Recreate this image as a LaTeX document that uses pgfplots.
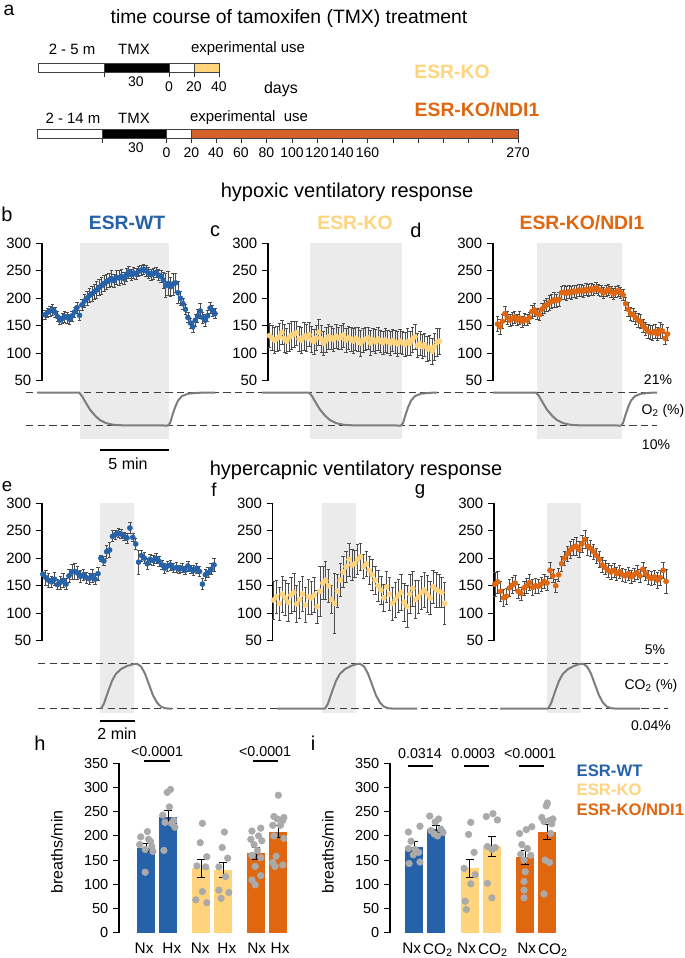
\documentclass[border=0pt]{standalone}
\usepackage{pgfplots}
\pgfplotsset{compat=1.18}
\usepackage{pgfplotstable}
\usepackage{fontspec}
\setmainfont{Liberation Sans}
\definecolor{wtblue}{RGB}{38,98,170}
\definecolor{koyel}{RGB}{255,212,125}
\definecolor{ndior}{RGB}{224,102,16}
\definecolor{tlor}{RGB}{212,98,40}
\definecolor{shade}{RGB}{235,235,235}
\definecolor{dotgray}{RGB}{170,170,170}
\definecolor{trgray}{RGB}{125,125,125}
\definecolor{dashgray}{RGB}{60,60,60}
\newcommand{\fs}[1]{\fontsize{#1}{#1}\selectfont}

\pgfplotsset{
  every axis/.append style={/pgf/number format/assume math mode=true},
  tc/.style={scale only axis, clip=false, height=103.05pt, ymin=50, ymax=300,
    ytick={50,100,...,300}, axis y line*=left, axis x line=none,
    tick align=outside, major tick length=4.5pt,
    axis line style={line width=0.8pt}, ytick style={line width=0.8pt, black},
    tick label style={font=\fs{11.2}}, anchor=south west},
  tcplot/.style={only marks, mark=*, mark size=1.9pt, color=#1,
    mark options={draw=none, fill=#1},
    error bars/.cd, y dir=both, y explicit,
    error bar style={line width=0.45pt, black!70},
    error mark options={rotate=90, mark size=1.3pt, line width=0.45pt, black!70}},
  barax/.style={scale only axis, clip=false, height=127.05pt, ymin=0, ymax=350,
    ytick={0,50,...,350}, axis lines*=left, x axis line style={draw=none},
    xtick style={draw=none},
    tick align=outside, major tick length=4.5pt,
    axis line style={line width=0.8pt}, ytick style={line width=0.8pt, black},
    tick label style={font=\fs{10.9}}, xticklabel style={font=\fs{11.5}},
    anchor=south west},
  bar/.style={ybar, bar width=0.82, bar shift=0pt, fill=#1, draw=none},
  dots/.style={only marks, mark=*, mark size=2.5pt, color=dotgray,
    mark options={draw=none, fill=dotgray}},
  ebar/.style={draw=none, mark=none, error bars/.cd, y dir=both, y explicit,
    error bar style={draw=black, line width=0.6pt},
    error mark options={rotate=90, draw=black, mark size=3pt, line width=0.6pt}},
  trax/.style={scale only axis, clip=false, axis lines=none, xmin=0, xmax=685,
    width=513.75pt, anchor=south west},
  dash/.style={dashgray, line width=0.9pt, dash pattern=on 5.5pt off 3.2pt},
  trace/.style={trgray, line width=1.5pt, line join=round},
  tl/.style={scale only axis, clip=false, height=6.75pt, ymin=0, ymax=1,
    axis y line=none, axis x line*=bottom, tick align=outside,
    major tick length=3.75pt, xtick style={line width=0.6pt, black!80},
    axis line style={line width=0.6pt, black!80},
    tick label style={font=\fs{10.5}}, anchor=south west},
  seg/.style={fill=#1, draw=black!75, line width=0.6pt},
}

% hypoxic: ESR-WT
\pgfplotstableread{
x y e
0 170 8
1 174 8
2 177 9
3 179 10
4 175 9
5 167 9
6 160 8
7 163 9
8 167 10
9 165 10
10 162 9
11 168 9
12 175 9
13 183 10
14 169 9
15 188 10
16 195 12
17 200 12
18 205 13
19 208 14
20 212 14
21 215 15
22 220 15
23 223 15
24 227 14
25 230 14
26 233 13
27 236 14
28 232 12
29 238 12
30 237 13
31 240 12
32 236 11
33 242 12
34 248 11
35 243 10
36 246 10
37 244 10
38 249 9
39 251 9
40 253 9
41 250 10
42 246 10
43 243 10
44 245 10
45 247 9
46 242 10
47 240 11
48 233 14
49 223 22
50 227 22
51 221 18
52 226 20
53 228 18
54 210 20
55 200 12
56 190 10
57 180 9
58 165 9
59 155 9
60 148 10
61 160 11
62 168 12
63 177 14
64 165 10
65 160 11
66 168 10
67 182 10
68 178 10
69 172 9
}\tb
% hypoxic: ESR-KO
\pgfplotstableread{
x y e
0 132 22
1 128 22
2 124 24
3 126 23
4 130 24
5 138 22
6 127 25
7 122 23
8 129 26
9 133 25
10 135 24
11 137 22
12 126 23
13 124 24
14 131 25
15 128 24
16 134 22
17 125 24
18 121 23
19 128 22
20 138 23
21 126 24
22 118 22
23 124 23
24 130 22
25 128 21
26 125 21
27 131 22
28 127 20
29 129 21
30 133 22
31 124 22
32 128 21
33 126 22
34 122 23
35 127 21
36 125 22
37 118 23
38 123 22
39 126 21
40 128 20
41 119 22
42 124 21
43 121 22
44 126 21
45 122 20
46 119 21
47 124 22
48 121 21
49 118 22
50 123 20
51 120 21
52 117 22
53 122 22
54 119 21
55 116 22
56 121 24
57 118 22
58 125 23
59 130 22
60 114 22
61 118 21
62 112 22
63 115 21
64 108 23
65 110 22
66 104 24
67 112 25
68 120 26
69 122 24
}\tc
% hypoxic: ESR-KO/NDI1
\pgfplotstableread{
x y e
0 153 14
1 148 13
2 158 12
3 172 14
4 165 12
5 160 11
6 163 12
7 166 11
8 160 10
9 164 12
10 158 10
11 162 11
12 160 10
13 165 10
14 176 12
15 179 12
16 172 10
17 170 10
18 180 11
19 185 12
20 188 12
21 192 13
22 194 13
23 197 13
24 196 12
25 198 12
26 210 12
27 211 12
28 209 12
29 212 12
30 210 11
31 213 11
32 212 12
33 215 11
34 214 11
35 213 11
36 216 11
37 214 11
38 217 11
39 215 10
40 219 10
41 216 10
42 214 10
43 210 10
44 213 10
45 216 10
46 212 10
47 208 10
48 211 10
49 214 10
50 210 10
51 206 10
52 190 12
53 180 12
54 172 12
55 170 12
56 165 12
57 160 12
58 158 12
59 150 12
60 145 12
61 140 12
62 138 12
63 137 13
64 140 12
65 135 12
66 142 14
67 140 12
68 127 10
69 135 12
}\td
% hypercapnic: ESR-WT
\pgfplotstableread{
x y e
0 171 3
1 165 14
2 160 12
3 157 10
4 162 12
5 152 9
6 156 12
7 160 13
8 153 10
9 168 12
10 175 14
11 176 15
12 173 12
13 167 11
14 170 10
15 165 10
16 163 10
17 168 12
18 162 10
19 172 12
20 200 6
21 195 8
22 212 12
23 215 14
24 240 10
25 243 8
26 246 8
27 244 8
28 240 8
29 237 9
30 255 10
31 238 8
32 226 10
33 193 22
34 205 10
35 200 10
36 190 10
37 198 9
38 196 9
39 200 9
40 195 9
41 188 8
42 182 9
43 186 9
44 188 9
45 182 8
46 183 9
47 180 8
48 182 8
49 178 8
50 186 9
51 180 8
52 178 9
53 182 9
54 176 9
55 153 10
56 170 10
57 174 9
58 180 10
59 188 12
}\te
% hypercapnic: ESR-KO
\pgfplotstableread{
x y e
0 124 35
1 130 30
2 118 30
3 135 33
4 128 32
5 120 34
6 133 33
7 138 35
8 117 33
9 125 34
10 135 32
11 115 32
12 130 32
13 128 30
14 133 32
15 112 30
16 140 45
17 155 30
18 160 35
19 150 30
20 125 25
21 118 55
22 140 30
23 160 30
24 175 28
25 185 28
26 198 30
27 188 28
28 190 25
29 198 28
30 203 25
31 185 22
32 190 23
33 178 25
34 170 28
35 160 25
36 150 28
37 142 26
38 128 25
39 148 28
40 135 30
41 118 30
42 125 32
43 132 30
44 138 32
45 120 35
46 112 38
47 135 36
48 145 32
49 125 35
50 130 30
51 138 30
52 142 32
53 135 34
54 128 30
55 148 30
56 143 32
57 140 30
58 138 28
59 118 38
}\tf
% hypercapnic: ESR-KO/NDI1
\pgfplotstableread{
x y e
0 153 22
1 157 20
2 140 18
3 128 15
4 131 14
5 146 15
6 151 14
7 155 14
8 140 12
9 136 12
10 146 13
11 150 14
12 156 14
13 147 14
14 150 13
15 149 13
16 153 13
17 158 12
18 155 13
19 178 14
20 168 12
21 150 12
22 170 12
23 190 14
24 200 13
25 208 14
26 215 15
27 220 15
28 222 16
29 216 15
30 226 15
31 234 16
32 222 16
33 218 15
34 212 14
35 205 14
36 198 14
37 188 14
38 183 13
39 178 13
40 175 13
41 178 13
42 172 12
43 176 12
44 170 12
45 168 12
46 172 12
47 166 12
48 170 12
49 174 13
50 168 12
51 180 12
52 172 12
53 166 13
54 163 13
55 166 13
56 160 14
57 165 14
58 178 14
59 158 22
}\tg

\begin{document}
\begin{tikzpicture}
\useasboundingbox (0,0) rectangle (513.75pt,-718.5pt);

% ---------- a: timelines
\begin{axis}[tl, at={(28.5pt,-54pt)}, width=135.75pt, xmin=38, xmax=219,
  xtick={104.5,169,194,219}, xticklabels={,0,20,40},
  extra x ticks={136}, extra x tick labels={30}, extra x tick style={major tick length=0pt}]
\addplot[seg=white] coordinates {(38,0)(104.5,0)(104.5,1)(38,1)} --cycle;
\addplot[seg=black] coordinates {(104.5,0)(169,0)(169,1)(104.5,1)} --cycle;
\addplot[seg=white] coordinates {(169,0)(194,0)(194,1)(169,1)} --cycle;
\addplot[seg=koyel] coordinates {(194,0)(219,0)(219,1)(194,1)} --cycle;
\end{axis}
\begin{axis}[tl, at={(27.75pt,-103.5pt)}, width=360.75pt, xmin=37, xmax=518,
  xtick={102,166.5,191.5,216,241,266.5,292,317,342,367.5,393,418,443,468,492,518},
  xticklabels={,0,20,40,60,80,100,120,140,160,,,,,,270},
  extra x ticks={136}, extra x tick labels={30}, extra x tick style={major tick length=0pt}]
\addplot[seg=white] coordinates {(37,0)(102,0)(102,1)(37,1)} --cycle;
\addplot[seg=black] coordinates {(102,0)(166.5,0)(166.5,1)(102,1)} --cycle;
\addplot[seg=white] coordinates {(166.5,0)(191.5,0)(191.5,1)(166.5,1)} --cycle;
\addplot[seg=tlor] coordinates {(191.5,0)(518,0)(518,1)(191.5,1)} --cycle;
\end{axis}

% ---------- b, c, d: hypoxic
\begin{axis}[tc, at={(31.5pt,-285.525pt)}, width=131.6pt, xmin=-1.22, xmax=70]
\addplot[fill=shade, draw=none] coordinates {(14.2,-56.1)(50.3,-56.1)(50.3,300)(14.2,300)} --cycle;
\addplot[tcplot=wtblue] table[x=x, y=y, y error=e] {\tb};
\end{axis}
\begin{axis}[tc, at={(201pt,-285.525pt)}, width=130.5pt, xmin=-0.61, xmax=70]
\addplot[fill=shade, draw=none] coordinates {(16.4,-56.1)(53.8,-56.1)(53.8,300)(16.4,300)} --cycle;
\addplot[tcplot=koyel] table[x=x, y=y, y error=e] {\tc};
\end{axis}
\begin{axis}[tc, at={(369.75pt,-285.525pt)}, width=132.75pt, xmin=-1.83, xmax=70]
\addplot[fill=shade, draw=none] coordinates {(16.0,-56.1)(50.5,-56.1)(50.5,300)(16.0,300)} --cycle;
\addplot[tcplot=ndior] table[x=x, y=y, y error=e] {\td};
\end{axis}

% O2 traces
\begin{axis}[trax, at={(0pt,-319.125pt)}, ymin=10, ymax=21, height=24.75pt]
\addplot[dash] coordinates {(26,21)(657,21)};
\addplot[dash] coordinates {(26,10)(657,10)};
\addplot[trace] coordinates {(37,21)(79,21)(82,19.8)(86,17.5)(90,15.3)(95,13.3)(100,11.8)(106,10.8)(114,10.2)(125,10.03)(168,10)(170,10.8)(172,13)(175,16)(178,18.3)(182,19.8)(188,20.6)(197,20.9)(215,21)};
\addplot[trace] coordinates {(262,21)(309,21)(312,19.8)(316,17.5)(320,15.3)(325,13.3)(330,11.8)(336,10.8)(344,10.2)(355,10.03)(401,10)(403,10.8)(405,13)(408,16)(411,18.3)(415,19.8)(421,20.6)(430,20.9)(437,21)};
\addplot[trace] coordinates {(493,21)(536,21)(539,19.8)(543,17.5)(547,15.3)(552,13.3)(557,11.8)(563,10.8)(571,10.2)(582,10.03)(621,10)(623,10.8)(625,13)(628,16)(631,18.3)(635,19.8)(641,20.6)(650,20.9)(657,21)};
\end{axis}

% ---------- e, f, g: hypercapnic
\begin{axis}[tc, at={(31.5pt,-480.525pt)}, width=131.2pt, xmin=-0.3, xmax=60]
\addplot[fill=shade, draw=none] coordinates {(19.7,-81.5)(31.4,-81.5)(31.4,300)(19.7,300)} --cycle;
\addplot[tcplot=wtblue] table[x=x, y=y, y error=e] {\te};
\end{axis}
\begin{axis}[tc, at={(204.5pt,-480.525pt)}, width=131.2pt, xmin=-0.3, xmax=60]
\addplot[fill=shade, draw=none] coordinates {(16.7,-81.5)(28.3,-81.5)(28.3,300)(16.7,300)} --cycle;
\addplot[tcplot=koyel] table[x=x, y=y, y error=e] {\tf};
\end{axis}
\begin{axis}[tc, at={(370.5pt,-480.525pt)}, width=131.2pt, xmin=-0.3, xmax=60]
\addplot[fill=shade, draw=none] coordinates {(17.9,-81.5)(29.6,-81.5)(29.6,300)(17.9,300)} --cycle;
\addplot[tcplot=ndior] table[x=x, y=y, y error=e] {\tg};
\end{axis}

% CO2 traces
\begin{axis}[trax, at={(0pt,-531.45pt)}, ymin=0.04, ymax=5, height=33.675pt]
\addplot[dash] coordinates {(38,5)(668,5)};
\addplot[dash] coordinates {(38,0.04)(668,0.04)};
\addplot[trace] coordinates {(101,0.04)(104,0.6)(108,1.9)(112,3.1)(116,3.9)(121,4.4)(127,4.75)(133,4.93)(137,5)(141,4.7)(145,3.9)(149,2.7)(153,1.5)(157,0.7)(161,0.25)(166,0.06)(172,0.04)};
\addplot[trace] coordinates {(277,0.04)(325,0.04)(328,0.6)(332,1.9)(336,3.1)(340,3.9)(345,4.4)(351,4.75)(356,4.95)(360,5)(364,4.7)(368,3.9)(372,2.7)(376,1.5)(380,0.7)(384,0.25)(389,0.06)(396,0.04)(417,0.04)};
\addplot[trace] coordinates {(500,0.04)(548,0.04)(551,0.6)(555,1.9)(559,3.1)(563,3.9)(568,4.4)(574,4.75)(579,4.95)(583,5)(587,4.7)(591,3.9)(595,2.7)(599,1.5)(603,0.7)(607,0.25)(612,0.06)(619,0.04)(640,0.04)};
\end{axis}

% ---------- h: hypoxia bars
\begin{axis}[barax, at={(89.25pt,-699.525pt)}, width=129.4pt, xmin=-1.24, xmax=6.6,
  xtick={-0.1,1.16,2.45,3.66,5.02,6.08}, xticklabels={Nx,Hx,Nx,Hx,Nx,Hx}]
\addplot[bar=wtblue] coordinates {(0,176)};
\addplot[bar=wtblue] coordinates {(1,240)};
\addplot[bar=koyel] coordinates {(2.5,133)};
\addplot[bar=koyel] coordinates {(3.5,129)};
\addplot[bar=ndior] coordinates {(5,164)};
\addplot[bar=ndior] coordinates {(6,209)};
\addplot[dots] coordinates {(0.05,209)(-0.25,198)(0.1,193)(0.2,188)(-0.3,182)(0.25,178)(-0.05,172)(0.3,168)(-0.05,125)};
\addplot[dots] coordinates {(1.1,296)(0.95,290)(1.05,260)(0.75,243)(1.25,232)(0.85,228)(1.15,226)(1.3,218)(0.8,170)};
\addplot[dots] coordinates {(2.55,226)(2.45,186)(2.75,157)(2.3,138)(2.7,136)(2.55,85)(2.25,68)(2.75,62)};
\addplot[dots] coordinates {(3.55,208)(3.45,176)(3.7,154)(3.3,136)(3.6,116)(3.3,88)(3.75,83)(3.4,71)};
\addplot[dots] coordinates {(5.2,216)(4.8,210)(5.1,200)(4.75,193)(5.25,190)(4.9,182)(5.05,170)(4.8,160)(5.2,155)(4.95,137)(5.2,118)(4.8,109)(4.95,99)};
\addplot[dots] coordinates {(6.0,284)(5.8,240)(6.25,238)(5.95,235)(6.2,232)(5.75,222)(6.1,222)(5.8,200)(6.25,195)(5.9,158)(5.75,145)(6.2,140)(5.85,137)};
\addplot[ebar] coordinates {(0,176) +- (0,7.5) (1,240) +- (0,12) (2.5,133) +- (0,18.6) (3.5,129) +- (0,15.5) (5,164) +- (0,11.7) (6,209) +- (0,12.7)};
\draw[line width=0.8pt] (axis cs:-0.1,354.8) -- (axis cs:1.09,354.8);
\draw[line width=0.8pt] (axis cs:4.85,354.8) -- (axis cs:5.99,354.8);
\node[font=\fs{10.7}] at (axis cs:0.49,373.5) {<0.0001};
\node[font=\fs{10.7}] at (axis cs:5.4,373.5) {<0.0001};
\end{axis}

% ---------- i: hypercapnia bars
\begin{axis}[barax, at={(292.5pt,-699.525pt)}, width=128pt, xmin=-1.09, xmax=6.6,
  xtick={-0.11,1.07,2.36,3.55,5.07,6.25},
  xticklabels={Nx,CO\textsubscript{2},Nx,CO\textsubscript{2},Nx,CO\textsubscript{2}}]
\addplot[bar=wtblue] coordinates {(0,177)};
\addplot[bar=wtblue] coordinates {(1,214)};
\addplot[bar=koyel] coordinates {(2.5,133)};
\addplot[bar=koyel] coordinates {(3.5,179)};
\addplot[bar=ndior] coordinates {(5,156)};
\addplot[bar=ndior] coordinates {(6,208)};
\addplot[dots] coordinates {(-0.26,208)(0.26,220)(-0.14,189)(-0.26,174)(0.2,166)(-0.04,161)(-0.23,143)(0.26,146)(0.05,172)};
\addplot[dots] coordinates {(0.7,241)(1.1,235)(0.95,229)(1.2,214)(0.75,211)(1.3,207)(0.9,204)(1.05,200)};
\addplot[dots] coordinates {(2.55,228)(2.45,203)(2.7,166)(2.25,133)(2.75,120)(2.55,101)(2.3,65)(2.35,48)};
\addplot[dots] coordinates {(3.25,240)(3.55,246)(3.75,233)(3.3,178)(3.65,176)(3.5,172)(3.3,102)(3.5,72)};
\addplot[dots] coordinates {(4.75,205)(5.05,213)(5.3,219)(4.85,182)(5.1,174)(4.8,162)(5.25,160)(4.95,150)(5.0,126)(4.95,106)(4.95,88)(4.95,72)};
\addplot[dots] coordinates {(6.0,268)(5.95,262)(5.75,238)(6.25,235)(6.1,232)(5.85,230)(6.2,225)(6.15,205)(5.9,150)(6.1,145)(5.85,80)};
\addplot[ebar] coordinates {(0,177) +- (0,11.5) (1,214) +- (0,7.5) (2.5,133) +- (0,19) (3.5,179) +- (0,21) (5,156) +- (0,14) (6,208) +- (0,16)};
\draw[line width=0.8pt] (axis cs:-0.28,344.4) -- (axis cs:0.85,344.4);
\draw[line width=0.8pt] (axis cs:2.24,344.4) -- (axis cs:3.37,344.4);
\draw[line width=0.8pt] (axis cs:4.72,344.4) -- (axis cs:5.85,344.4);
\node[font=\fs{10.7}] at (axis cs:0.26,371) {0.0314};
\node[font=\fs{10.7}] at (axis cs:2.66,371) {0.0003};
\node[font=\fs{10.7}] at (axis cs:5.22,371) {<0.0001};
\end{axis}

% ---------- texts
\begin{scope}[x=0.75pt, y=-0.75pt]
\node[font=\fs{14.5}, inner sep=1pt] at (9,10) {a};
\node[font=\fs{14.5}] at (289,18) {time course of tamoxifen (TMX) treatment};
\node[font=\fs{11.2}] at (72,49) {2 - 5 m};
\node[font=\fs{11.2}] at (134,49) {TMX};
\node[font=\fs{11.2}] at (248,49) {experimental use};
\node[font=\fs{12}] at (281,89) {days};
\node[font=\bfseries\fs{14.5}, text=koyel] at (452,72) {ESR-KO};
\node[font=\bfseries\fs{14.5}, text=ndior, anchor=west] at (410,110) {ESR-KO/NDI1};
\node[font=\fs{11.2}] at (73,118) {2 - 14 m};
\node[font=\fs{11.2}] at (134,118) {TMX};
\node[font=\fs{11.2}] at (249,118) {experimental\ \ use};

\node[font=\fs{15}] at (347,192) {hypoxic ventilatory response};
\node[font=\fs{15}] at (7,214) {b};
\node[font=\bfseries\fs{14.5}, text=wtblue] at (127,223) {ESR-WT};
\node[font=\fs{15}] at (215,231) {c};
\node[font=\bfseries\fs{14.5}, text=koyel] at (355,223) {ESR-KO};
\node[font=\fs{15}] at (416,230) {d};
\node[font=\bfseries\fs{14.5}, text=ndior] at (582,223) {ESR-KO/NDI1};
\node[font=\fs{10.5}] at (658,380) {21\%};
\node[font=\fs{10.5}] at (663,411) {O\textsubscript{2} (\%)};
\node[font=\fs{10.5}] at (656,445) {10\%};
\draw[line width=0.8pt] (99.5,450) -- (169,450);
\node[font=\fs{12}] at (128,464) {5 min};

\node[font=\fs{15}, inner sep=1pt] at (356,470) {hypercapnic ventilatory response};
\node[font=\fs{14}, inner sep=1pt] at (7,487) {e};
\node[font=\fs{14}, inner sep=1pt] at (214,490) {f};
\node[font=\fs{14}, inner sep=1pt] at (420,491) {g};
\node[font=\fs{10.5}] at (655,650) {5\%};
\node[font=\fs{10.5}] at (651,686) {CO\textsubscript{2} (\%)};
\node[font=\fs{10.5}] at (651,726) {0.04\%};
\draw[line width=0.8pt] (99.6,721) -- (134.5,721);
\node[font=\fs{12}] at (117,734) {2 min};

\node[font=\fs{15}] at (40,743) {h};
\node[font=\fs{15}] at (313,743) {i};
\node[font=\fs{12}, rotate=90] at (57,852) {breaths/min};
\node[font=\fs{12}, rotate=90] at (328,852) {breaths/min};
\node[font=\bfseries\fs{12.5}, text=wtblue, anchor=west] at (572,771) {ESR-WT};
\node[font=\bfseries\fs{12.5}, text=koyel, anchor=west] at (572,790) {ESR-KO};
\node[font=\bfseries\fs{12.5}, text=ndior, anchor=west] at (572,810) {ESR-KO/NDI1};
\end{scope}
\end{tikzpicture}
\end{document}
